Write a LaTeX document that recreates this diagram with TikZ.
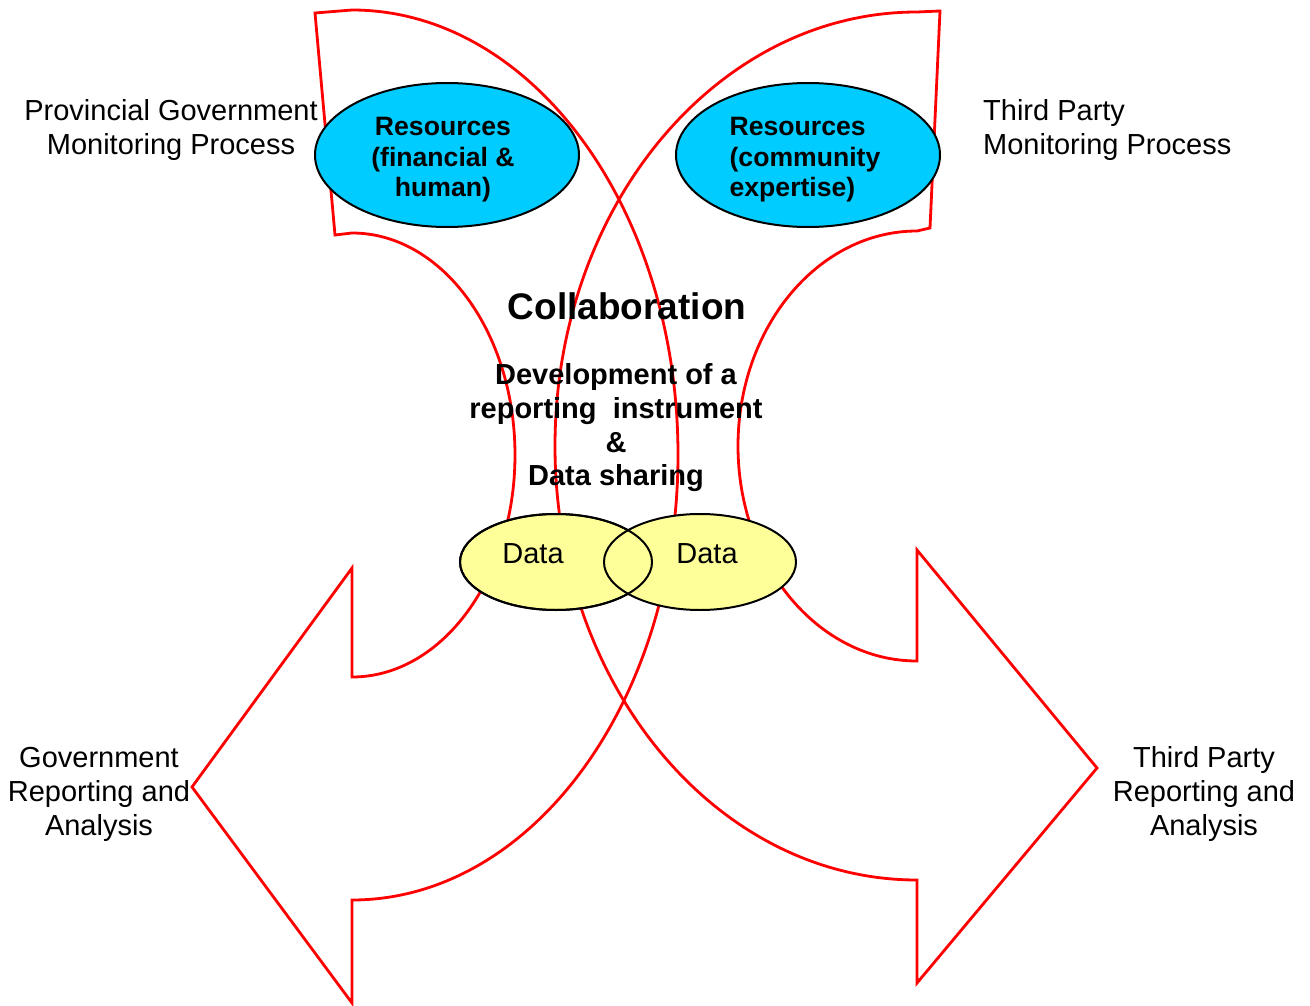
\documentclass[tikz,border=0pt]{standalone}
\usepackage{fontspec}
\setmainfont{Liberation Sans}
\usetikzlibrary{shapes.geometric}
\definecolor{resblue}{HTML}{00CCFF}
\definecolor{datayellow}{HTML}{FFFF99}
\tikzset{
  bigarrow/.style={draw=red, line width=2.8pt, line join=miter},
  resell/.style={ellipse, draw=black, line width=2pt, fill=resblue, minimum width=264pt, minimum height=144pt, inner sep=0pt},
  restxt/.style={font=\bfseries\fontsize{26.6}{30.5}\selectfont, inner sep=0pt},
  dataell/.style={ellipse, draw=black, line width=2pt, fill=datayellow, minimum width=192pt, minimum height=96pt, inner sep=0pt},
  lbl/.style={font=\fontsize{29}{34}\selectfont, align=center, inner sep=0pt},
  boldlbl/.style={font=\bfseries\fontsize{29}{33.7}\selectfont, align=center, inner sep=0pt}
}
\begin{document}
\begin{tikzpicture}[x=1pt,y=-1pt]
\useasboundingbox (0,0) rectangle (1310,1006);
\draw[bigarrow] (315,13) -- (352,10)
  arc[start angle=-90, end angle=90, x radius=326, y radius=445]
  -- (352,1003) -- (192,787) -- (352,568) -- (352,677)
  arc[start angle=90, end angle=-90, x radius=163, y radius=222]
  -- (335,235) -- cycle;
\draw[bigarrow] (940,11) -- (917,12)
  arc[start angle=-90, end angle=-270, x radius=362, y radius=434]
  -- (917,983) -- (1097,768) -- (917,550) -- (917,661)
  arc[start angle=90, end angle=270, x radius=179, y radius=215]
  -- (930,228) -- cycle;
\node[resell] (resgov) at (447,155) {};
\node[resell] (resthird) at (808,155) {};
\node[restxt, align=center] (resgovtxt) at (443,160) {Resources\\(financial \&\\human)};
\node[restxt, align=left] (resthirdtxt) at (805,160) {Resources\\(community\\expertise)};
\node[dataell] (datagov) at (556,562) {};
\node[dataell] (datathird) at (700,562) {};
\draw[line width=2pt] (datagov.center) ellipse [x radius=96, y radius=48];
\node[lbl] (datagovtxt) at (533,554) {Data};
\node[lbl] (datathirdtxt) at (707,554) {Data};
\node[lbl] (provmon) at (171,130) {Provincial Government\\Monitoring Process};
\node[lbl, align=left, anchor=west] (thirdmon) at (983,130) {Third Party\\Monitoring Process};
\node[lbl] (govrep) at (99,794) {Government\\Reporting and\\Analysis};
\node[lbl] (thirdrep) at (1204,794) {Third Party\\Reporting and\\Analysis};
\node[boldlbl, font=\bfseries\fontsize{37}{42}\selectfont] (collab) at (627,306) {Collaboration};
\node[boldlbl] (devel) at (616,428) {Development of a\\reporting\ \ instrument\\\&\\Data sharing};
\end{tikzpicture}
\end{document}
